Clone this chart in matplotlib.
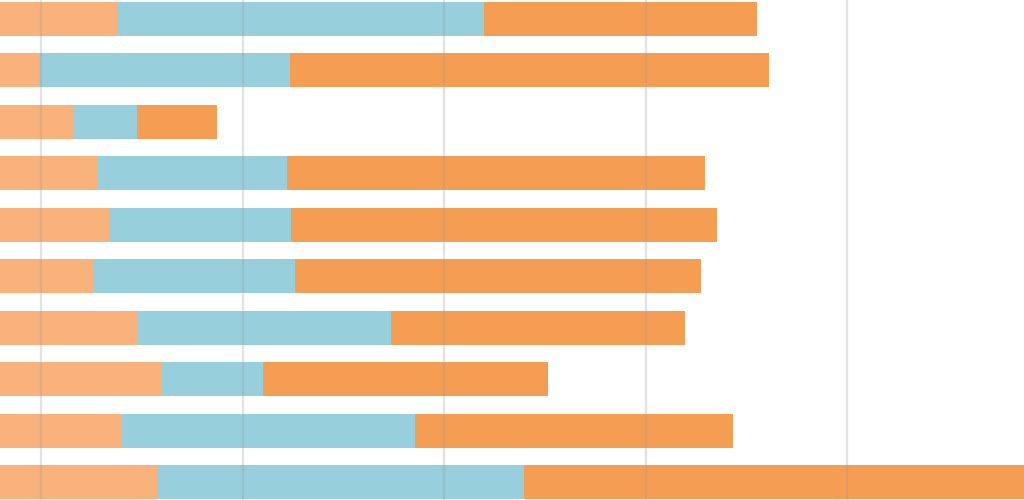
import numpy as np
import matplotlib
matplotlib.use("Agg")
import matplotlib.pyplot as plt

# segment values per row, top to bottom
first = [29.0, 9.9, 18.1, 24.1, 27.0, 23.1, 34.0, 40.2, 30.0, 39.0]
second = [91.1, 62.0, 15.9, 47.1, 45.2, 50.1, 63.0, 25.1, 73.0, 91.1]
third = [67.7, 119.0, 19.9, 103.7, 105.7, 100.7, 73.0, 70.7, 78.9, 124.1]
grid_ticks = [10.2, 60.2, 110.2, 160.2, 210.2]

colors = ["#F9B27B", "#97CFDD", "#F59D53"]

fig = plt.figure(figsize=(10.24, 5.0), dpi=100)
ax = fig.add_axes([0, 0, 1, 1])

y = np.arange(len(first))
left = np.zeros(len(first))
for vals, c in zip([first, second, third], colors):
    ax.barh(y, vals, left=left, height=0.66, color=c, zorder=2)
    left = left + np.array(vals)

for t in grid_ticks:
    ax.axvline(t, color="#9a9a9a", alpha=0.28, linewidth=1.6, zorder=3)

ax.set_xlim(0, 254.1)
ax.set_ylim(9.35, -0.37)
ax.axis("off")

plt.savefig("out.png", dpi=100)
